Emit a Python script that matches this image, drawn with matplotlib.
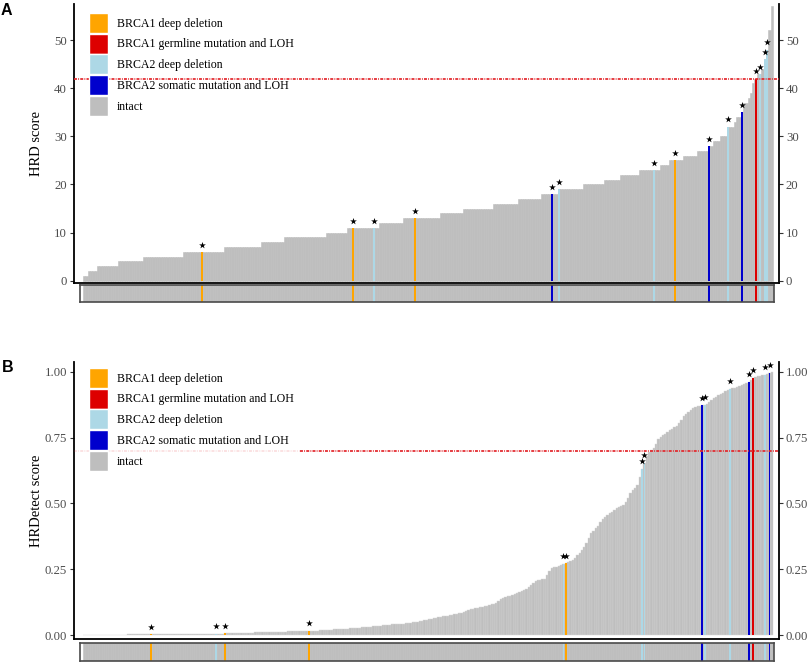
import numpy as np
import matplotlib
matplotlib.use("Agg")
import matplotlib.pyplot as plt
from matplotlib.patches import Patch

# ---------------- data ----------------
status_labels = ["BRCA1 deep deletion", "BRCA1 germline mutation and LOH",
                 "BRCA2 deep deletion", "BRCA2 somatic mutation and LOH", "intact"]
status_colors = ["#FFA500", "#DD0000", "#ADD8E6", "#0000CD", "#BEBEBE"]

# Panel A: sorted HRD scores given as (level, number of samples) runs
hrd_levels = [1, 2, 3, 4, 5, 6, 7, 8, 9, 10, 11, 12, 13, 14, 15, 16, 17, 18, 19, 20,
              21, 22, 23, 24, 25, 26, 27, 28, 29, 30, 32, 33, 34, 35, 37, 38, 39, 41,
              42, 43, 44, 46, 48, 52, 57]
hrd_counts = [2, 4, 9, 11, 17, 18, 16, 10, 18, 9, 14, 10, 16, 10, 13, 11, 10, 7, 11, 9,
              7, 8, 9, 4, 6, 6, 5, 2, 3, 3, 3, 1, 2, 1, 2, 1, 1, 1,
              1, 2, 1, 1, 1, 1, 1]
hrd_marked_idx = [51, 116, 125, 143, 202, 205, 246, 255, 270, 278, 284, 290, 292, 294, 295]
hrd_marked_status = [0, 0, 2, 0, 3, 2, 2, 0, 3, 2, 3, 1, 2, 2, 2]
hrd_threshold = 42

# Panel B: sorted HRDetect scores (one per sample)
hrdetect_scores = [
    0.000, 0.000, 0.000, 0.000, 0.001, 0.001, 0.001, 0.001, 0.001, 0.001,
    0.001, 0.001, 0.001, 0.001, 0.001, 0.001, 0.001, 0.001, 0.001, 0.002,
    0.002, 0.002, 0.002, 0.002, 0.002, 0.002, 0.002, 0.002, 0.002, 0.002,
    0.002, 0.002, 0.002, 0.002, 0.002, 0.002, 0.003, 0.003, 0.003, 0.003,
    0.003, 0.003, 0.003, 0.003, 0.003, 0.003, 0.004, 0.004, 0.004, 0.004,
    0.004, 0.004, 0.004, 0.005, 0.005, 0.005, 0.005, 0.005, 0.005, 0.005,
    0.005, 0.006, 0.006, 0.006, 0.006, 0.007, 0.007, 0.007, 0.007, 0.008,
    0.008, 0.008, 0.009, 0.009, 0.010, 0.010, 0.010, 0.011, 0.011, 0.011,
    0.012, 0.012, 0.012, 0.012, 0.013, 0.013, 0.013, 0.013, 0.014, 0.014,
    0.014, 0.014, 0.015, 0.015, 0.015, 0.015, 0.015, 0.016, 0.016, 0.016,
    0.017, 0.017, 0.018, 0.018, 0.019, 0.019, 0.020, 0.020, 0.021, 0.021,
    0.022, 0.022, 0.023, 0.024, 0.024, 0.025, 0.026, 0.026, 0.027, 0.028,
    0.029, 0.030, 0.031, 0.031, 0.032, 0.033, 0.034, 0.035, 0.036, 0.037,
    0.038, 0.038, 0.039, 0.040, 0.040, 0.041, 0.042, 0.042, 0.043, 0.044,
    0.045, 0.046, 0.048, 0.050, 0.051, 0.053, 0.054, 0.056, 0.057, 0.059,
    0.061, 0.063, 0.065, 0.067, 0.069, 0.071, 0.073, 0.074, 0.076, 0.077,
    0.079, 0.080, 0.082, 0.085, 0.088, 0.091, 0.095, 0.098, 0.100, 0.102,
    0.104, 0.106, 0.108, 0.110, 0.112, 0.114, 0.116, 0.119, 0.122, 0.130,
    0.137, 0.141, 0.144, 0.147, 0.150, 0.153, 0.156, 0.159, 0.163, 0.166,
    0.170, 0.175, 0.181, 0.190, 0.198, 0.206, 0.209, 0.211, 0.213, 0.214,
    0.230, 0.245, 0.253, 0.257, 0.260, 0.264, 0.266, 0.269, 0.272, 0.276,
    0.280, 0.286, 0.292, 0.303, 0.313, 0.323, 0.336, 0.349, 0.368, 0.388,
    0.397, 0.405, 0.415, 0.428, 0.440, 0.448, 0.455, 0.462, 0.468, 0.474,
    0.482, 0.486, 0.490, 0.494, 0.505, 0.520, 0.539, 0.550, 0.560, 0.570,
    0.600, 0.630, 0.655, 0.680, 0.695, 0.705, 0.712, 0.725, 0.745, 0.752,
    0.760, 0.766, 0.772, 0.778, 0.784, 0.789, 0.793, 0.805, 0.818, 0.831,
    0.840, 0.849, 0.856, 0.862, 0.866, 0.869, 0.871, 0.873, 0.875, 0.880,
    0.886, 0.894, 0.900, 0.906, 0.911, 0.915, 0.921, 0.926, 0.932, 0.936,
    0.938, 0.941, 0.944, 0.948, 0.951, 0.954, 0.958, 0.963, 0.968, 0.976,
    0.980, 0.983, 0.986, 0.988, 0.990, 0.993, 0.998, 1.000,
]
hrdetect_marked_idx = [29, 57, 61, 97, 207, 208, 241, 242, 267, 268, 279, 287, 289, 294, 296]
hrdetect_marked_status = [0, 2, 0, 0, 2, 0, 2, 2, 3, 2, 2, 3, 1, 2, 3]
hrdetect_threshold = 0.70

# ---------------- layout helpers (pixels) ----------------
W, H = 809, 663
SERIF = "Liberation Serif"
plt.rcParams["font.family"] = [SERIF, "DejaVu Serif"]

fig = plt.figure(figsize=(W / 100, H / 100), dpi=100)


def rect(x0, y0, x1, y1):
    return [x0 / W, 1 - y1 / H, (x1 - x0) / W, (y1 - y0) / H]


BAR_X0, BAR_X1 = 83, 773


def xlim_for(n, a, b):
    ppb = (BAR_X1 - BAR_X0) / n
    return ((a - BAR_X0) / ppb - 0.5, (b - BAR_X0) / ppb - 0.5)


def panel(values, marked_idx, marked_status, ymin, ymax, ticks, ticklabels,
          ylabel, main_px, strip_px, star_off, thr, legend_xy, letter, letter_xy,
          stripes, fade_px=None):
    values = np.asarray(values, dtype=float)
    n = len(values)
    x = np.arange(n)
    ax = fig.add_axes(rect(*main_px))
    ax.set_xlim(*xlim_for(n, main_px[0], main_px[2]))
    ax.set_ylim(ymin, ymax)
    if stripes:
        ax.bar(x, values, width=1.0, color=status_colors[4], edgecolor="#D6D6D6",
               linewidth=0.3, zorder=1)
    else:
        ax.bar(x, values, width=1.0, color=status_colors[4], edgecolor=status_colors[4],
               linewidth=0.4, zorder=1)
    mi = np.asarray(marked_idx)
    mc = [status_colors[s] for s in marked_status]
    ax.bar(mi, values[mi], width=0.8, color=mc, linewidth=0, zorder=2)
    ax.scatter(mi, values[mi] + star_off, marker="*", s=26, c="black",
               linewidths=0, zorder=5)
    ls = (0, (1.7, 0.7, 0.5, 0.7))
    lc = "#E3262B"
    lw = 1.25
    if fade_px is None:
        ax.axhline(thr, color=lc, lw=lw, linestyle=ls, zorder=4)
    else:
        f = (fade_px - main_px[0]) / (main_px[2] - main_px[0])
        ax.axhline(thr, xmin=0, xmax=f, color=lc, lw=lw, linestyle=ls,
                   alpha=0.15, zorder=4)
        ax.axhline(thr, xmin=f, xmax=1, color=lc, lw=lw, linestyle=ls, zorder=4)

    ax.spines["top"].set_visible(False)
    for s in ["left", "right", "bottom"]:
        ax.spines[s].set_linewidth(1.3)
        ax.spines[s].set_color("black")
    ax.set_xticks([])
    ax.set_yticks(ticks)
    ax.set_yticklabels(ticklabels)
    ax.tick_params(axis="y", left=True, right=True, labelleft=True, labelright=True,
                   length=3, width=0.8, color="#333333", labelcolor="#4D4D4D",
                   labelsize=9.2, pad=2)
    ax.set_ylabel(ylabel, fontsize=10.5, color="black")
    ax.yaxis.set_label_coords((43 - main_px[0]) / (main_px[2] - main_px[0]), 0.5)
    ax.set_facecolor("none")

    handles = [Patch(facecolor=c, edgecolor="white", linewidth=1.0) for c in status_colors]
    fs = 8.6
    fpx = fs * 100 / 72
    hh = (20 / fpx - 0.245) / 0.65
    ax.legend(handles, status_labels, loc="upper left",
              bbox_to_anchor=(legend_xy[0] / W, 1 - legend_xy[1] / H),
              bbox_transform=fig.transFigure, frameon=False, fontsize=fs,
              handlelength=19 / fpx, handleheight=hh, labelspacing=0.06,
              handletextpad=9 / fpx, borderpad=0, borderaxespad=0)

    sx = fig.add_axes(rect(*strip_px))
    sx.set_xlim(*xlim_for(n, strip_px[0], strip_px[2]))
    sx.set_ylim(0, 1)
    sx.bar(x, np.ones(n), width=1.0, color=status_colors[4],
           edgecolor=status_colors[4], linewidth=0.4)
    sx.bar(mi, np.ones(len(mi)), width=0.8, color=mc, linewidth=0)
    sx.set_xticks([])
    sx.set_yticks([])
    for s in sx.spines.values():
        s.set_color("#4A4A4A")
        s.set_linewidth(1.2)

    fig.text(letter_xy[0] / W, 1 - letter_xy[1] / H, letter, family="Liberation Sans",
             fontweight="bold", fontsize=11.5, ha="left", va="top")
    return ax


# expand HRD runs into one value per sample
hrd_values = np.repeat(hrd_levels, hrd_counts)

panel(hrd_values, hrd_marked_idx, hrd_marked_status,
      ymin=-0.48, ymax=57.5, ticks=[0, 10, 20, 30, 40, 50],
      ticklabels=["0", "10", "20", "30", "40", "50"], ylabel="HRD score",
      main_px=(74, 4, 779, 283), strip_px=(80, 285, 774, 302), star_off=1.5,
      thr=hrd_threshold, legend_xy=(89, 13), letter="A", letter_xy=(1, 3),
      stripes=False)

panel(hrdetect_scores, hrdetect_marked_idx, hrdetect_marked_status,
      ymin=-0.0152, ymax=1.038, ticks=[0, 0.25, 0.5, 0.75, 1.0],
      ticklabels=["0.00", "0.25", "0.50", "0.75", "1.00"], ylabel="HRDetect score",
      main_px=(74, 362, 779, 639), strip_px=(80, 643, 774, 661), star_off=0.03,
      thr=hrdetect_threshold, legend_xy=(89, 368), letter="B", letter_xy=(2, 360),
      stripes=True, fade_px=300)

fig.savefig("out.png", dpi=100)
